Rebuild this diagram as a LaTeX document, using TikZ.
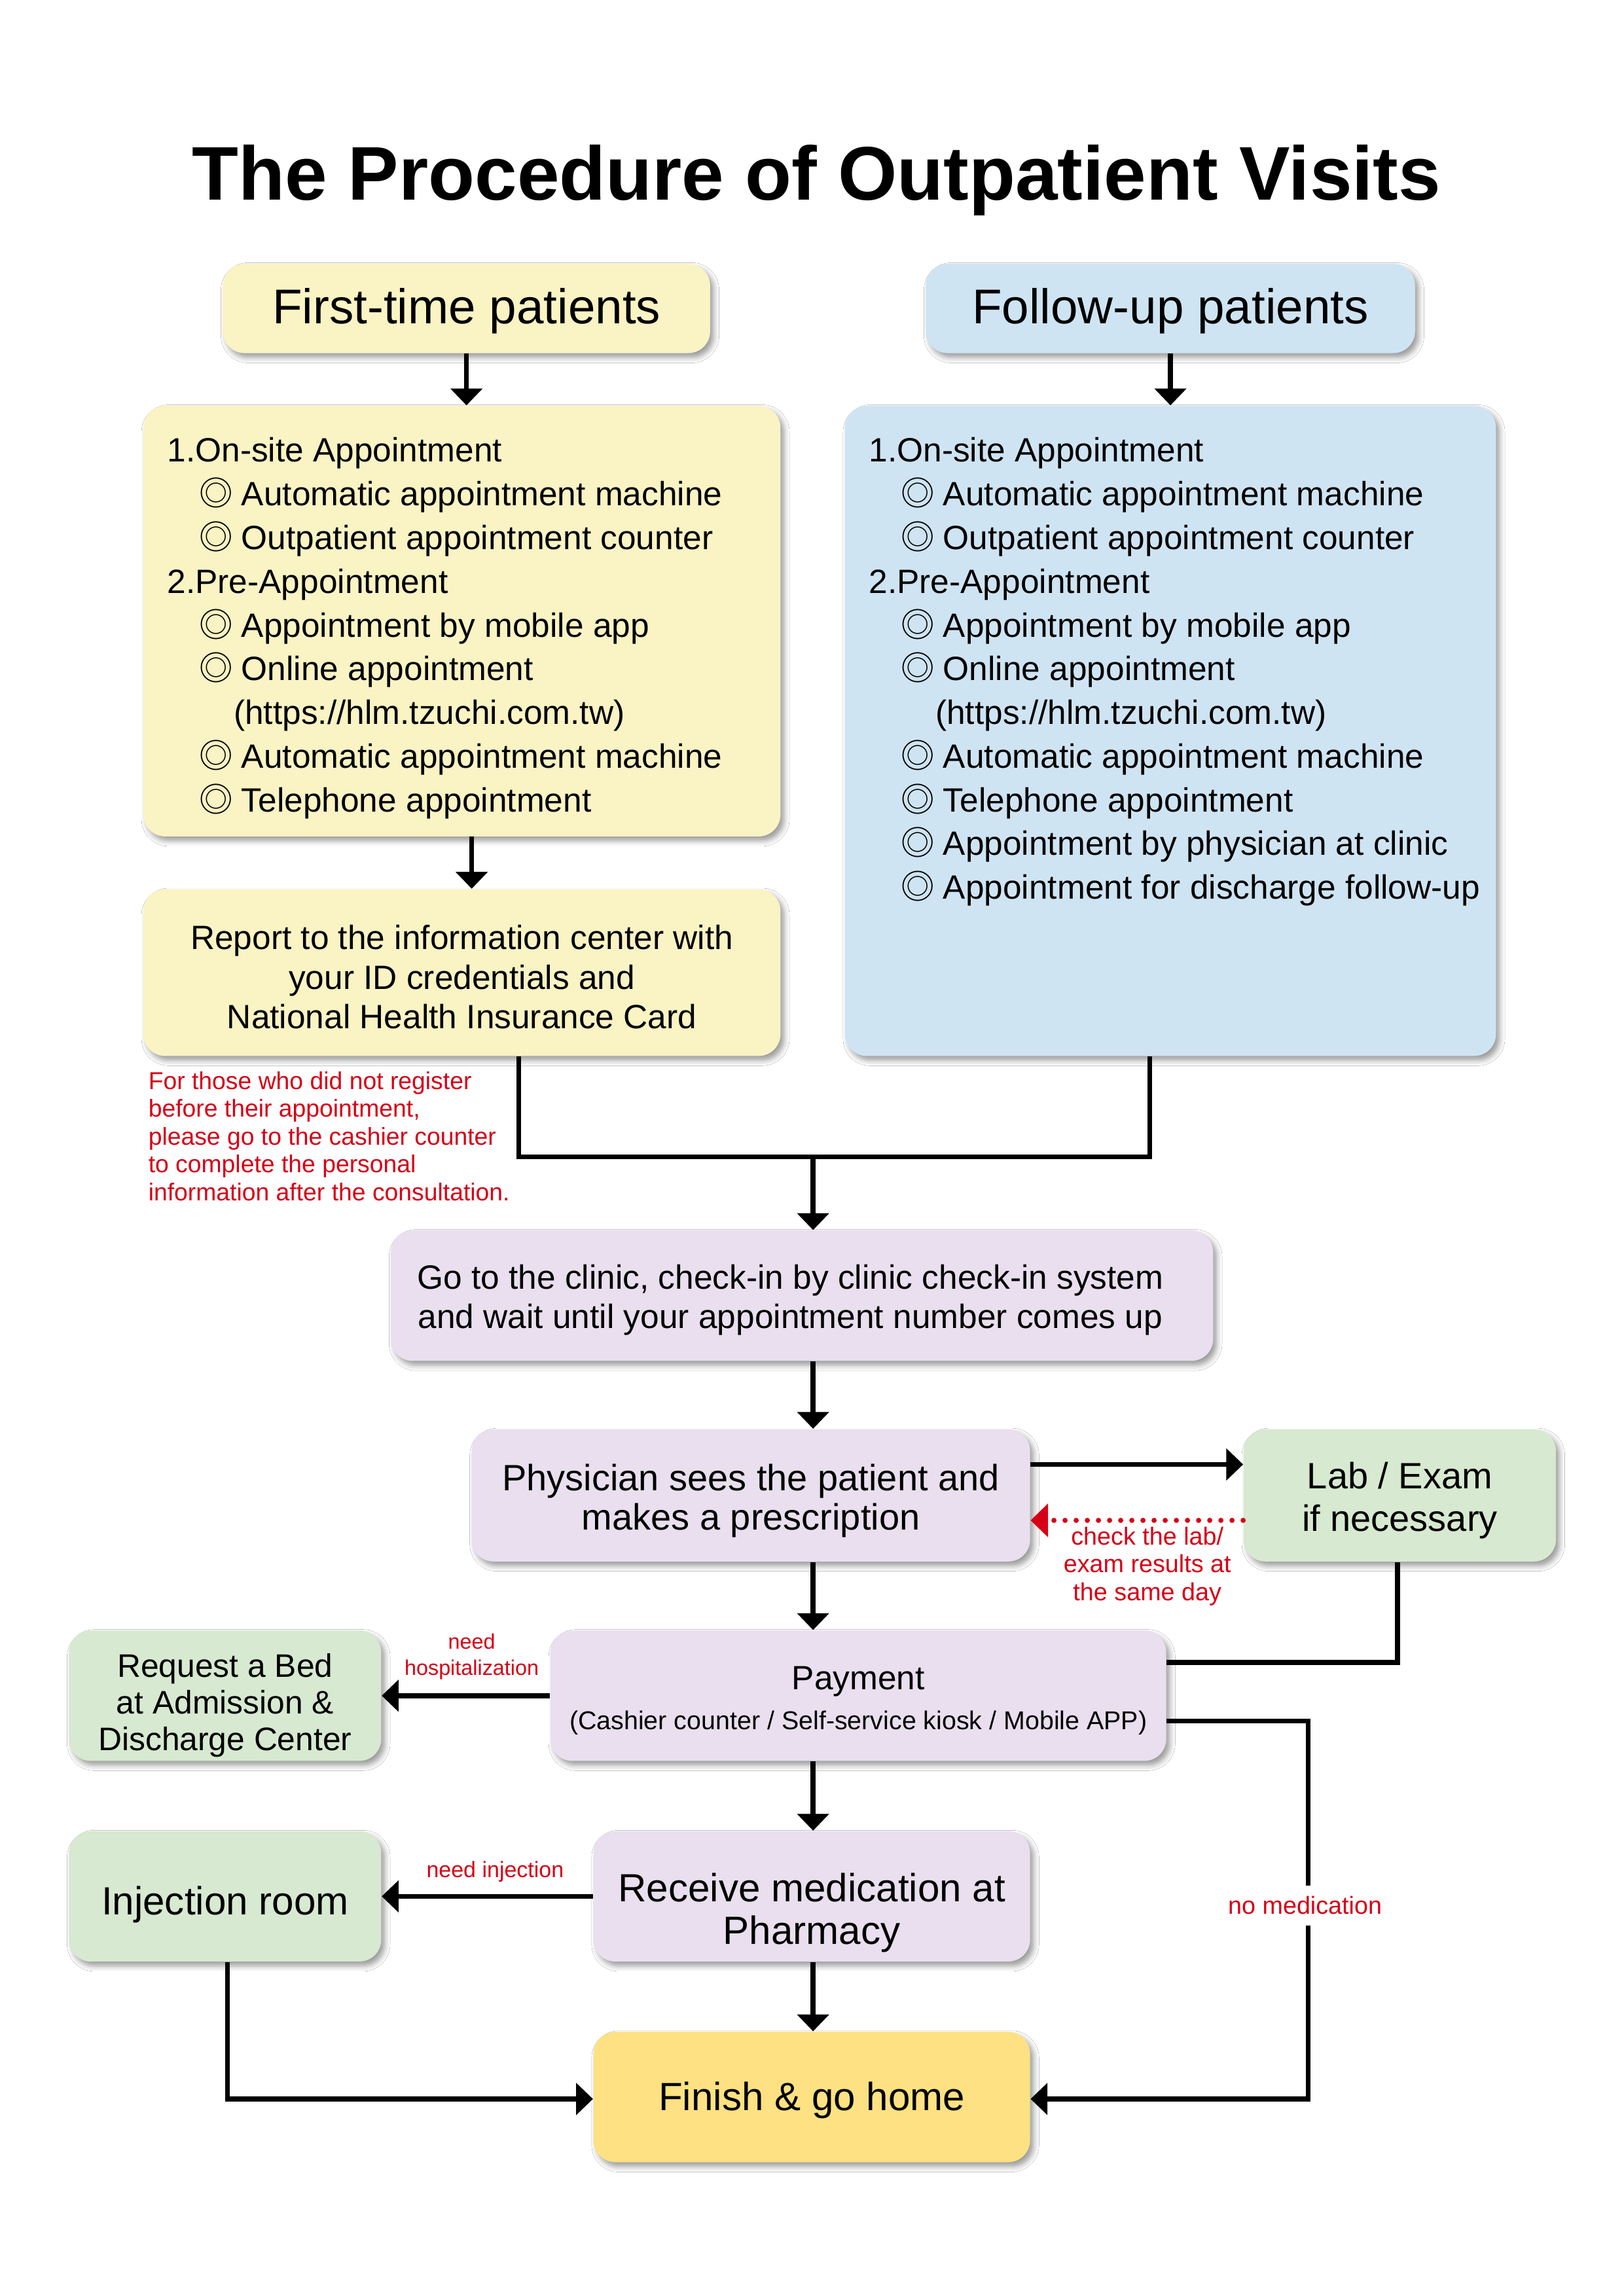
\documentclass[tikz,border=0pt]{standalone}
\usepackage{fontspec}
\setmainfont{Liberation Sans}
\newfontfamily\symf{Noto Sans CJK SC}
\usetikzlibrary{arrows.meta,shadows.blur}
\newcommand\setfs[2]{\fontsize{#1}{#2}\selectfont}
\newcommand\bul{\makebox[15.55pt][l]{\symf ◎}}
\definecolor{yel}{RGB}{250,243,196}
\definecolor{blu}{RGB}{207,228,242}
\definecolor{lav}{RGB}{233,223,238}
\definecolor{grn}{RGB}{215,233,208}
\definecolor{gld}{RGB}{253,225,130}
\definecolor{rd}{RGB}{214,0,22}
\tikzset{
  box/.style={rounded corners=8pt, inner sep=0pt,
    blur shadow={shadow xshift=1.3pt, shadow yshift=-1.6pt, shadow blur radius=2pt, shadow opacity=40}},
  txt/.style={align=center, inner sep=0pt},
  ln/.style={line width=1.8pt},
  arr/.style={ln, -{Triangle[length=6.2pt,width=11.5pt]}},
  lbl/.style={text=rd, align=center, inner sep=0pt},
}
\begin{document}
\begin{tikzpicture}[x=0.24pt,y=-0.24pt]
\useasboundingbox[fill=white] (0,0) rectangle (2491.7,3524.5);

\node[font=\bfseries\setfs{28}{32}] (title) at (1253,277) {The Procedure of Outpatient Visits};

% header boxes
\node[box, fill=yel, minimum width=179.5pt, minimum height=32.9pt] (first) at (716,473.5) {};
\node[txt, font=\setfs{18}{21}, yshift=-1pt] (firstT) at (first) {First-time patients};
\node[box, fill=blu, minimum width=180.2pt, minimum height=32.9pt] (follow) at (1796.5,473.5) {};
\node[txt, font=\setfs{18}{21}, yshift=-1pt] (followT) at (follow) {Follow-up patients};

% list boxes
\node[box, fill=yel, minimum width=234.7pt, minimum height=158.6pt] (ylist) at (709,953.5) {};
\node[box, fill=blu, minimum width=239.8pt, minimum height=239.5pt] (blist) at (1796.5,1122) {};

\node[anchor=north west, inner sep=0pt, align=left, font=\setfs{12.4}{16.1}] (ytext) at (256,671) {1.On-site Appointment\\
\hspace*{11.75pt}\bul Automatic appointment machine\\
\hspace*{11.75pt}\bul Outpatient appointment counter\\
2.Pre-Appointment\\
\hspace*{11.75pt}\bul Appointment by mobile app\\
\hspace*{11.75pt}\bul Online appointment\\
\hspace*{24.5pt}(https://hlm.tzuchi.com.tw)\\
\hspace*{11.75pt}\bul Automatic appointment machine\\
\hspace*{11.75pt}\bul Telephone appointment};

\node[anchor=north west, inner sep=0pt, align=left, font=\setfs{12.4}{16.1}] (btext) at (1333,671) {1.On-site Appointment\\
\hspace*{11.75pt}\bul Automatic appointment machine\\
\hspace*{11.75pt}\bul Outpatient appointment counter\\
2.Pre-Appointment\\
\hspace*{11.75pt}\bul Appointment by mobile app\\
\hspace*{11.75pt}\bul Online appointment\\
\hspace*{24.5pt}(https://hlm.tzuchi.com.tw)\\
\hspace*{11.75pt}\bul Automatic appointment machine\\
\hspace*{11.75pt}\bul Telephone appointment\\
\hspace*{11.75pt}\bul Appointment by physician at clinic\\
\hspace*{11.75pt}\bul Appointment for discharge follow-up};

\node[box, fill=yel, minimum width=234.7pt, minimum height=61.4pt] (report) at (709,1493) {};
\node[txt, font=\setfs{12.4}{14.6}, yshift=-1.6pt] (reportT) at (report) {Report to the information center with\\your ID credentials and\\National Health Insurance Card};

\node[anchor=north west, inner sep=0pt, align=left, text=rd, font=\setfs{9}{10.25}] (note) at (227,1644) {For those who did not register\\before their appointment,\\please go to the cashier counter\\to complete the personal\\information after the consultation.};

\node[box, fill=lav, minimum width=302.9pt, minimum height=48pt] (clinic) at (1231,1989) {};
\node[txt, font=\setfs{12.4}{14.6}, yshift=-1.6pt, xshift=-4.3pt] (clinicT) at (clinic) {Go to the clinic, check-in by clinic check-in system\\and wait until your appointment number comes up};

\node[box, fill=lav, minimum width=205.7pt, minimum height=48.7pt] (phys) at (1152.5,2295.5) {};
\node[txt, font=\setfs{13.5}{14.6}, yshift=-2pt] (physT) at (phys) {Physician sees the patient and\\makes a prescription};
\node[box, fill=grn, minimum width=115pt, minimum height=48.7pt] (lab) at (2148.5,2295.5) {};
\node[txt, font=\setfs{13.5}{15.6}, yshift=-1.8pt] (labT) at (lab) {Lab / Exam\\if necessary};

\node[box, fill=lav, minimum width=226.8pt, minimum height=48pt] (pay) at (1317.5,2603) {};
\node[txt, font=\setfs{12.4}{14.4}, yshift=-1.8pt] (payT) at (pay) {Payment\\[0.5pt]{\setfs{9.5}{11}(Cashier counter / Self-service kiosk / Mobile APP)}};
\node[box, fill=grn, minimum width=115pt, minimum height=48pt] (req) at (345.5,2603) {};
\node[txt, font=\setfs{12}{13.5}, yshift=-3.5pt] (reqT) at (req) {Request a Bed\\at Admission \&\\Discharge Center};

\node[box, fill=lav, minimum width=160.8pt, minimum height=48pt] (pharm) at (1246,2911) {};
\node[txt, font=\setfs{14.5}{15.6}, yshift=-6pt] (pharmT) at (pharm) {Receive medication at\\Pharmacy};
\node[box, fill=grn, minimum width=115pt, minimum height=48pt] (inj) at (345.5,2911) {};
\node[txt, font=\setfs{14.5}{15.6}, yshift=-3pt] (injT) at (inj) {Injection room};

\node[box, fill=gld, minimum width=160.8pt, minimum height=48pt] (finish) at (1246,3219) {};
\node[txt, font=\setfs{14.5}{15.6}, yshift=-1.3pt] (finishT) at (finish) {Finish \& go home};

% coordinates for connectors
\coordinate (jl) at (796,1776);
\coordinate (jr) at (1765,1776);
\coordinate (jm) at (1248,1776);
\coordinate (lc) at (2145,2552);
\coordinate (nm1) at (2008,2642);
\coordinate (nm2) at (2008,3222);
\coordinate (ic) at (349,3222);
\coordinate (yc) at (724,1284);

% connectors
\draw[arr] (first.south) -- (first.south|-ylist.north);
\draw[arr] (follow.south) -- (follow.south|-blist.north);
\draw[arr] (yc) -- (yc|-report.north);
\draw[ln] (report.south-|jl) -- (jl) -- (jr) -- (blist.south-|jr);
\draw[arr] (jm) -- (clinic.north-|jm);
\draw[arr] (clinic.south-|jm) -- (phys.north-|jm);
\draw[arr] ([yshift=11.4pt]phys.east) -- ([yshift=11.4pt]lab.west);
\draw[rd, line width=1.9pt, dash pattern=on 0pt off 4.1pt, line cap=round, -{Triangle[length=6.4pt,width=12pt]}] ([yshift=-9.2pt]lab.west) -- ([yshift=-9.2pt]phys.east);
\draw[arr] (phys.south-|jm) -- (pay.north-|jm);
\draw[ln] (lab.south-|lc) -- (lc) -- (pay.east|-lc);
\draw[arr] (pay.east|-nm1) -- (nm1) -- (nm2) -- (finish.east|-nm2);
\draw[arr] (pay.west) -- (req.east);
\draw[arr] (pay.south-|jm) -- (pharm.north-|jm);
\draw[arr] (pharm.west) -- (inj.east);
\draw[arr] (pharm.south-|jm) -- (finish.north-|jm);
\draw[arr] (inj.south-|ic) -- (ic) -- (finish.west|-ic);

% labels
\node[lbl, font=\setfs{9.1}{10.25}] (chk) at (1761,2404) {check the lab/\\exam results at\\the same day};
\node[lbl, font=\setfs{7.8}{9.7}] (hosp) at (724,2543) {need\\hospitalization};
\node[lbl, font=\setfs{8.2}{9.7}] (needinj) at (760,2873) {need injection};
\node[lbl, font=\setfs{9.1}{10.25}, fill=white, inner ysep=4pt, inner xsep=1pt] (nomed) at (2003,2925) {no medication};
\end{tikzpicture}
\end{document}
